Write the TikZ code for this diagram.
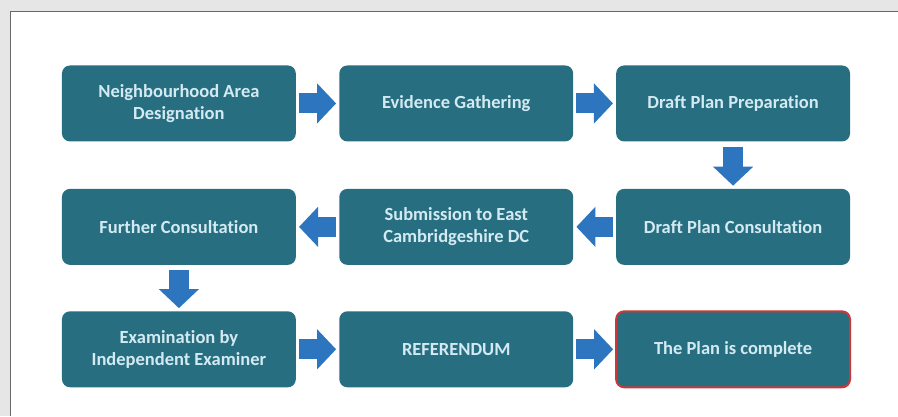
\documentclass[tikz,border=0pt]{standalone}
\usepackage{fontspec}
\setmainfont{Carlito}[Ligatures=NoCommon]
\usepackage{tikz}
\usetikzlibrary{arrows.meta}
\definecolor{NPTeal}{RGB}{39,111,128}
\definecolor{NPBlue}{RGB}{46,117,192}
\definecolor{NPText}{RGB}{212,234,242}
\definecolor{NPRed}{RGB}{205,55,55}
\definecolor{NPGrey}{RGB}{230,230,230}
\definecolor{NPFrame}{RGB}{105,105,105}

\begin{document}
\begin{tikzpicture}[x=1pt, y=-1pt,
          sbox/.style={rectangle, rounded corners=8pt, fill=NPTeal,
                       minimum width=234pt, minimum height=76pt, align=center,
                       text=NPText, font=\fontsize{18.5}{22}\selectfont\bfseries},
          flow/.style={-{Triangle[length=19pt, width=39pt]}, draw=NPBlue,
                       line width=20pt, shorten <=3pt, shorten >=3pt}
        ]
        % page and panel
        \fill[NPGrey] (0,0) rectangle (898,416);
        \fill[white] (11,12) rectangle (898,416);
        \draw[NPFrame, line width=1pt] (11,416) -- (11,12) -- (898,12);
        \useasboundingbox (0,0) rectangle (898,416);

        \node[sbox] (area)   at (179,   103.5) {Neighbourhood Area\\Designation};
        \node[sbox] (evid)   at (456.5, 103.5) {Evidence Gathering};
        \node[sbox] (draft)  at (733.5, 103.5) {Draft Plan Preparation};
        \node[sbox] (dcons)  at (733.5, 227)   {Draft Plan Consultation};
        \node[sbox] (subm)   at (456.5, 227)   {Submission to East\\Cambridgeshire DC};
        \node[sbox] (fcons)  at (179,   227)   {Further Consultation};
        \node[sbox] (exam)   at (179,   349.5) {Examination by\\Independent Examiner};
        \node[sbox] (refer)  at (456.5, 349.5) {REFERENDUM};
        \node[sbox, draw=NPRed, line width=2pt] (done) at (733.5, 349.5)
              {The Plan is complete};

        \draw[flow] (area)  -- (evid);
        \draw[flow] (evid)  -- (draft);
        \draw[flow, shorten <=5pt] (draft) -- (dcons);
        \draw[flow] (dcons) -- (subm);
        \draw[flow] (subm)  -- (fcons);
        \draw[flow, shorten <=5pt] (fcons) -- (exam);
        \draw[flow] (exam)  -- (refer);
        \draw[flow, shorten >=2pt] (refer) -- (done);
      \end{tikzpicture}
\end{document}
